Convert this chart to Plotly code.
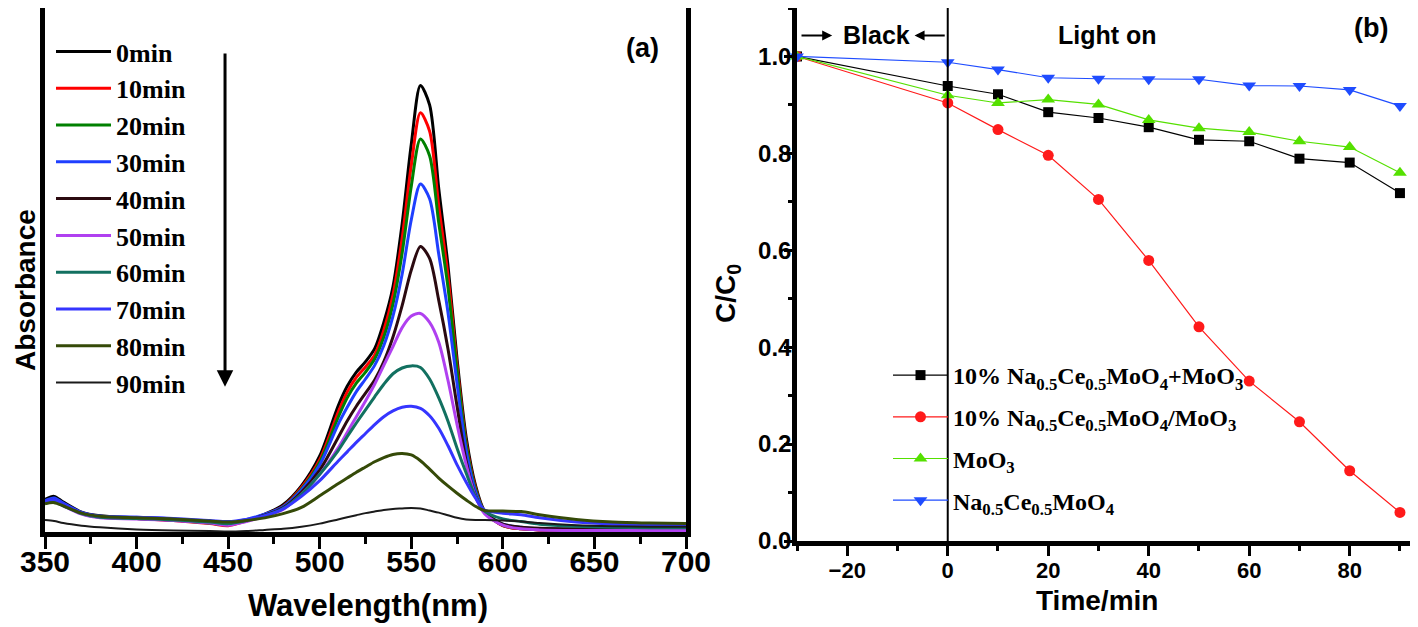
import plotly.graph_objects as go

# ---- panel (a): UV-vis spectra ----
wavelength = [350, 355, 360, 370, 380, 400, 420, 440, 450, 460, 470, 480, 490, 500, 510, 515, 520, 525, 530,
              535, 540, 545, 550, 555, 560, 565, 570, 575, 580, 585, 590, 600, 610, 620, 640, 660, 680, 700]

abs_0min = [0.062, 0.068, 0.057, 0.038, 0.031, 0.027, 0.023, 0.018, 0.015, 0.022, 0.034, 0.052, 0.088, 0.145,
            0.240, 0.278, 0.305, 0.325, 0.350, 0.400, 0.468, 0.588, 0.740, 0.852, 0.815, 0.655, 0.510, 0.330,
            0.180, 0.090, 0.040, 0.012, 0.006, 0.004, 0.003, 0.003, 0.003, 0.003]
abs_10min = [0.058, 0.063, 0.054, 0.036, 0.029, 0.026, 0.022, 0.016, 0.012, 0.021, 0.033, 0.049, 0.085, 0.138,
             0.228, 0.267, 0.295, 0.315, 0.338, 0.385, 0.452, 0.560, 0.700, 0.800, 0.765, 0.622, 0.490, 0.318,
             0.170, 0.085, 0.038, 0.012, 0.006, 0.004, 0.003, 0.003, 0.003, 0.003]
abs_20min = [0.057, 0.062, 0.053, 0.036, 0.029, 0.026, 0.023, 0.017, 0.014, 0.022, 0.033, 0.048, 0.082, 0.133,
             0.218, 0.256, 0.284, 0.305, 0.330, 0.372, 0.435, 0.532, 0.660, 0.750, 0.718, 0.590, 0.468, 0.308,
             0.165, 0.082, 0.038, 0.013, 0.007, 0.005, 0.004, 0.004, 0.004, 0.004]
abs_30min = [0.060, 0.065, 0.055, 0.037, 0.030, 0.028, 0.025, 0.020, 0.017, 0.024, 0.034, 0.048, 0.080, 0.128,
             0.205, 0.238, 0.268, 0.292, 0.318, 0.356, 0.412, 0.492, 0.596, 0.664, 0.636, 0.530, 0.420, 0.283,
             0.155, 0.078, 0.038, 0.015, 0.009, 0.006, 0.005, 0.005, 0.005, 0.005]
abs_40min = [0.057, 0.061, 0.052, 0.035, 0.028, 0.026, 0.023, 0.018, 0.015, 0.022, 0.032, 0.046, 0.076, 0.118,
             0.180, 0.212, 0.240, 0.265, 0.290, 0.325, 0.372, 0.432, 0.500, 0.545, 0.522, 0.442, 0.350, 0.240,
             0.135, 0.070, 0.037, 0.015, 0.009, 0.007, 0.006, 0.006, 0.006, 0.006]
abs_50min = [0.056, 0.059, 0.050, 0.034, 0.027, 0.025, 0.022, 0.017, 0.013, 0.020, 0.030, 0.043, 0.072, 0.110,
             0.160, 0.190, 0.220, 0.250, 0.282, 0.318, 0.354, 0.390, 0.412, 0.417, 0.400, 0.362, 0.290, 0.205,
             0.128, 0.068, 0.035, 0.013, 0.006, 0.004, 0.003, 0.003, 0.003, 0.003]
abs_60min = [0.055, 0.058, 0.050, 0.035, 0.028, 0.026, 0.023, 0.019, 0.016, 0.022, 0.031, 0.045, 0.072, 0.110,
             0.155, 0.182, 0.208, 0.233, 0.258, 0.282, 0.302, 0.313, 0.317, 0.314, 0.292, 0.256, 0.212, 0.160,
             0.112, 0.068, 0.040, 0.025, 0.020, 0.015, 0.011, 0.009, 0.008, 0.008]
abs_70min = [0.058, 0.062, 0.053, 0.037, 0.030, 0.028, 0.026, 0.022, 0.020, 0.024, 0.031, 0.044, 0.068, 0.098,
             0.135, 0.153, 0.171, 0.188, 0.205, 0.220, 0.231, 0.238, 0.240, 0.236, 0.222, 0.198, 0.165, 0.128,
             0.095, 0.065, 0.042, 0.036, 0.033, 0.027, 0.019, 0.015, 0.013, 0.012]
abs_80min = [0.054, 0.056, 0.050, 0.036, 0.030, 0.027, 0.025, 0.021, 0.019, 0.022, 0.027, 0.035, 0.047, 0.069,
             0.092, 0.103, 0.114, 0.124, 0.134, 0.142, 0.148, 0.150, 0.147, 0.136, 0.120, 0.103, 0.088, 0.074,
             0.061, 0.049, 0.041, 0.040, 0.039, 0.033, 0.024, 0.019, 0.017, 0.016]
abs_90min = [0.023, 0.021, 0.017, 0.012, 0.009, 0.005, 0.003, 0.002, 0.001, 0.002, 0.004, 0.006, 0.010, 0.016,
             0.024, 0.028, 0.032, 0.036, 0.039, 0.042, 0.044, 0.045, 0.046, 0.045, 0.041, 0.037, 0.032, 0.027,
             0.024, 0.023, 0.023, 0.022, 0.020, 0.017, 0.013, 0.011, 0.010, 0.010]

spectra = [abs_0min, abs_10min, abs_20min, abs_30min, abs_40min,
           abs_50min, abs_60min, abs_70min, abs_80min, abs_90min]
spectra_labels = ['0min', '10min', '20min', '30min', '40min', '50min', '60min', '70min', '80min', '90min']
spectra_colors = ['#000000', '#FF0000', '#008000', '#1F3FFF', '#2B0A10',
                  '#B040F0', '#127060', '#3535FF', '#354A08', '#1A1A1A']

# ---- panel (b): degradation kinetics ----
time_min = [-30, 0, 10, 20, 30, 40, 50, 60, 70, 80, 90]
c_mix = [1.0, 0.939, 0.922, 0.885, 0.873, 0.854, 0.828, 0.825, 0.789, 0.781, 0.718]
c_composite = [1.0, 0.904, 0.849, 0.796, 0.705, 0.579, 0.442, 0.330, 0.246, 0.145, 0.059]
c_moo3 = [1.0, 0.920, 0.904, 0.911, 0.901, 0.869, 0.852, 0.844, 0.825, 0.813, 0.760]
c_ncm = [1.0, 0.988, 0.973, 0.956, 0.954, 0.953, 0.953, 0.940, 0.939, 0.931, 0.898]

kin_series = [c_mix, c_composite, c_moo3, c_ncm]
kin_labels = ['10% Na<sub>0.5</sub>Ce<sub>0.5</sub>MoO<sub>4</sub>+MoO<sub>3</sub>',
              '10% Na<sub>0.5</sub>Ce<sub>0.5</sub>MoO<sub>4</sub>/MoO<sub>3</sub>',
              'MoO<sub>3</sub>',
              'Na<sub>0.5</sub>Ce<sub>0.5</sub>MoO<sub>4</sub>']
kin_colors = ['#000000', '#FF1A1A', '#55E000', '#1F4CFF']
kin_symbols = ['square', 'circle', 'triangle-up', 'triangle-down']
kin_sizes = [10, 11, 12, 12]

W, H = 1418, 627
OFF = 8  # page body margin offsets the figure on screen
SANS = 'Liberation Sans'
SERIF = 'Liberation Serif'


def px(x):
    return (x - OFF) / W


def py(y):
    return 1 - (y - OFF) / H


fig = go.Figure()

for vals, name, color in zip(spectra, spectra_labels, spectra_colors):
    fig.add_trace(go.Scatter(
        x=wavelength, y=vals, name=name, mode='lines',
        line=dict(color=color, width=2 if name == '90min' else 3, shape='spline', smoothing=0.8),
        xaxis='x', yaxis='y', legend='legend'
    ))

for i, (vals, name, color, sym, size) in enumerate(zip(kin_series, kin_labels, kin_colors, kin_symbols, kin_sizes)):
    fig.add_trace(go.Scatter(
        x=time_min, y=vals, name=name, mode='lines+markers',
        line=dict(color=color, width=1.2),
        marker=dict(symbol=sym, size=size, color=color),
        cliponaxis=False, legendgroup=f'g{i}',
        xaxis='x2', yaxis='y2', legend='legend2'
    ))

axis_common = dict(showline=True, linewidth=4.5, linecolor='black', mirror=True,
                   showgrid=False, zeroline=False, automargin=False, tickcolor='black')

fig.update_layout(
    width=W, height=H, autosize=False,
    margin=dict(l=0, r=0, t=0, b=0),
    paper_bgcolor='white', plot_bgcolor='white',
    xaxis=dict(domain=[px(45), px(686)], range=[350, 700], anchor='y',
               tickmode='linear', tick0=350, dtick=50, ticks='outside', ticklen=12, tickwidth=3,
               minor=dict(dtick=25, tick0=350, ticks='outside', ticklen=7, tickwidth=3, tickcolor='black'),
               tickfont=dict(family=SANS, size=30, weight='bold', color='black'),
               ticklabelstandoff=-13,
               **axis_common),
    yaxis=dict(domain=[py(532), py(8)], range=[0, 1.0], anchor='x',
               showticklabels=False, ticks='', **axis_common),
    xaxis2=dict(domain=[px(797), px(1410)], range=[-30, 92], anchor='y2',
                tickmode='linear', tick0=0, dtick=20, ticks='outside', ticklen=10, tickwidth=3,
                minor=dict(dtick=10, tick0=0, ticks='outside', ticklen=5, tickwidth=3, tickcolor='black'),
                tickfont=dict(family=SANS, size=22, weight='bold', color='black'),
                ticklabelstandoff=-4,
                **axis_common),
    yaxis2=dict(domain=[py(541), py(8)], range=[0, 1.1], anchor='x2',
                tickmode='linear', tick0=0, dtick=0.2, tickformat='.1f',
                ticks='outside', ticklen=8, tickwidth=3,
                minor=dict(dtick=0.1, tick0=0, ticks='outside', ticklen=4, tickwidth=3, tickcolor='black'),
                tickfont=dict(family=SANS, size=24, weight='bold', color='black'),
                ticklabelstandoff=-12,
                **axis_common),
    legend=dict(x=px(51), y=py(28), xanchor='left', yanchor='top', bgcolor='rgba(0,0,0,0)',
                font=dict(family=SERIF, size=26, weight='bold', color='black'),
                itemwidth=55, tracegroupgap=0),
    legend2=dict(x=px(888), y=py(353), xanchor='left', yanchor='top', bgcolor='rgba(0,0,0,0)',
                 font=dict(family=SERIF, size=24, weight='bold', color='black'),
                 itemwidth=55, tracegroupgap=7.5),
)

# light-on marker line at t = 0
fig.add_shape(type='line', xref='x2', yref='paper', x0=0, x1=0, y0=py(541), y1=py(3),
              line=dict(color='black', width=2))

ann_font = dict(family=SANS, color='black', weight='bold')
annotations = [
    dict(text='(a)', x=px(642), y=py(48), font=dict(size=27, **ann_font)),
    dict(text='Absorbance', x=px(25), y=py(290), textangle=-90, font=dict(size=28, **ann_font)),
    dict(text='Wavelength(nm)', x=px(368), y=py(605), font=dict(size=31, **ann_font)),
    dict(text='Black', x=px(876), y=py(35), font=dict(size=25, **ann_font)),
    dict(text='Light on', x=px(1107), y=py(35), font=dict(size=25, **ann_font)),
    dict(text='(b)', x=px(1371), y=py(28), font=dict(size=27, **ann_font)),
    dict(text='C/C<sub>0</sub>', x=px(727), y=py(294), textangle=-90, font=dict(size=28, **ann_font)),
    dict(text='Time/min', x=px(1097), y=py(600), font=dict(size=28, **ann_font)),
]
for a in annotations:
    fig.add_annotation(xref='paper', yref='paper', showarrow=False,
                       xanchor='center', yanchor='middle', **a)

# arrows
fig.add_annotation(xref='x', yref='y', axref='x', ayref='y', x=448.3, y=0.277, ax=448.3, ay=0.916,
                   showarrow=True, arrowhead=2, arrowsize=1.1, arrowwidth=3, arrowcolor='black', text='')
fig.add_annotation(xref='x2', yref='y2', axref='x2', ayref='y2', x=-23.0, y=1.043, ax=-29.4, ay=1.043,
                   showarrow=True, arrowhead=2, arrowsize=1, arrowwidth=2, arrowcolor='black', text='')
fig.add_annotation(xref='x2', yref='y2', axref='x2', ayref='y2', x=-6.6, y=1.043, ax=-0.3, ay=1.043,
                   showarrow=True, arrowhead=2, arrowsize=1, arrowwidth=2, arrowcolor='black', text='')

fig.write_html('out.html')
